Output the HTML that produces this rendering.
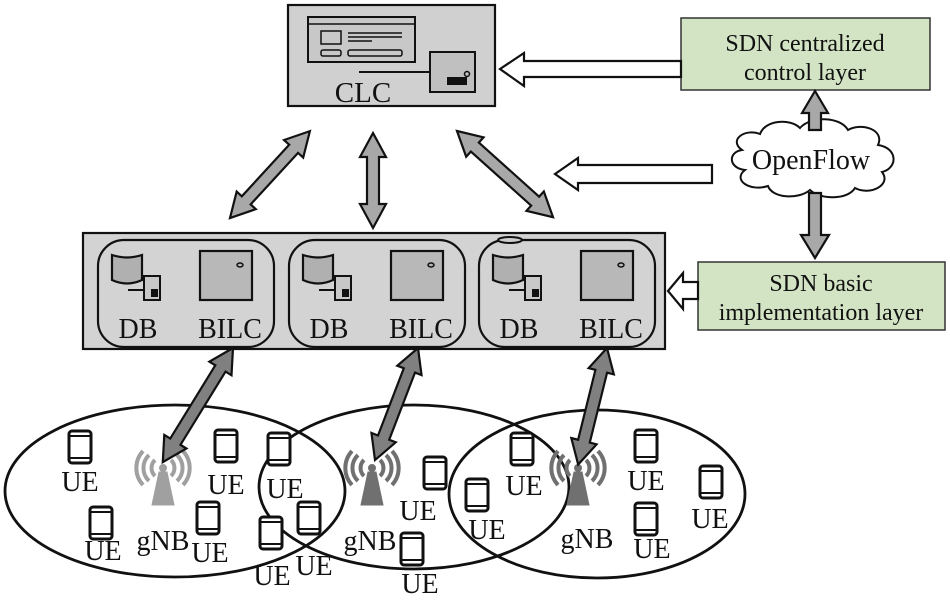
<!DOCTYPE html>
<html><head><meta charset="utf-8"><style>html,body{margin:0;padding:0;background:#fff}svg{display:block}text{font-family:"Liberation Serif",serif;fill:#111}</style></head><body>
<svg width="950" height="602" viewBox="0 0 950 602" xmlns="http://www.w3.org/2000/svg">
<defs>
<g id="phone"><rect x="-11" y="-16" width="22" height="32" rx="3" fill="#fff" stroke="#111" stroke-width="3"/><line x1="-11" y1="-11" x2="11" y2="-11" stroke="#111" stroke-width="2"/><line x1="-11" y1="11" x2="11" y2="11" stroke="#111" stroke-width="2"/></g>
<g id="tower"><polygon points="-4,-6 4,-6 11,27 -11,27"/><circle cx="0" cy="-10" r="3.5"/><g fill="none" stroke-width="4"><path d="M-8,-18 A11,11 0 0 0 -8,-2"/><path d="M8,-18 A11,11 0 0 1 8,-2"/><path d="M-14,-23 A18,18 0 0 0 -14,3"/><path d="M14,-23 A18,18 0 0 1 14,3"/><path d="M-20,-27 A25,25 0 0 0 -20,7"/><path d="M20,-27 A25,25 0 0 1 20,7"/></g></g>
<g id="unit">
<rect x="0" y="0" width="176" height="107" rx="26" fill="none" stroke="#111" stroke-width="2.2"/>
<path d="M14,15 L14,40 Q29,47 44,40 L44,15 Q29,20 14,15 Z" fill="#b0b0b0" stroke="#111" stroke-width="2.2"/>
<line x1="30" y1="50" x2="46" y2="50" stroke="#111" stroke-width="2"/>
<rect x="46" y="36" width="16" height="24" fill="#c8c8c8" stroke="#111" stroke-width="2"/>
<rect x="53" y="49" width="7" height="8" fill="#111"/>
<rect x="102" y="11" width="52" height="49" fill="#b8b8b8" stroke="#111" stroke-width="2.2"/>
<ellipse cx="142" cy="25" rx="3" ry="2" fill="none" stroke="#111" stroke-width="1.5"/>
<text x="40" y="98" font-size="28" text-anchor="middle">DB</text>
<text x="132" y="98" font-size="28" text-anchor="middle">BILC</text>
</g>
</defs>

<rect x="288" y="5" width="207" height="101" fill="#d0d0d0" stroke="#111" stroke-width="2.2"/>
<rect x="308" y="17" width="107" height="45" fill="#c8c8c8" stroke="#111" stroke-width="2"/>
<line x1="308" y1="24" x2="415" y2="24" stroke="#111" stroke-width="1.5"/>
<rect x="321" y="31" width="20" height="13" fill="none" stroke="#111" stroke-width="1.5"/>
<line x1="348" y1="33" x2="402" y2="33" stroke="#111" stroke-width="1.5"/><line x1="348" y1="37" x2="402" y2="37" stroke="#111" stroke-width="1.5"/><line x1="348" y1="41" x2="372" y2="41" stroke="#111" stroke-width="1.5"/>
<rect x="321" y="50" width="20" height="6" rx="2" fill="none" stroke="#111" stroke-width="1.5"/><rect x="348" y="50" width="54" height="6" rx="2" fill="none" stroke="#111" stroke-width="1.5"/>
<line x1="359" y1="72" x2="430" y2="72" stroke="#111" stroke-width="2"/>
<rect x="430" y="52" width="45" height="40" fill="#c0c0c0" stroke="#111" stroke-width="2"/>
<rect x="447" y="77" width="20" height="8" fill="#111"/><circle cx="467" cy="74" r="2.5" fill="none" stroke="#111" stroke-width="1.5"/>
<text x="363" y="102" font-size="29" text-anchor="middle">CLC</text>

<rect x="681" y="18" width="249" height="72" fill="#d3e4c4" stroke="#333" stroke-width="1.5"/>
<text x="805" y="51" font-size="24" text-anchor="middle">SDN centralized</text>
<text x="805" y="80" font-size="24" text-anchor="middle">control layer</text>
<rect x="698" y="262" width="247" height="68" fill="#d3e4c4" stroke="#333" stroke-width="1.5"/>
<text x="821" y="291" font-size="24" text-anchor="middle">SDN basic</text>
<text x="821" y="320" font-size="24" text-anchor="middle">implementation layer</text>

<polygon points="500,69 524,53 524,61 681,61 681,77 524,77 524,86" fill="#fff" stroke="#111" stroke-width="2.2"/>
<polygon points="555,174 578,158 578,165 712,165 712,183 578,183 578,190" fill="#fff" stroke="#111" stroke-width="2.2"/>
<polygon points="668,291 683,273 683,282 698,282 698,299 683,299 683,309" fill="#fff" stroke="#111" stroke-width="2.2"/>

<path d="M742,150 C728,140 745,128 760,134 C765,120 790,118 800,128 C810,116 840,116 848,130 C862,122 885,130 878,145 C898,148 898,168 882,172 C892,185 870,196 855,188 C848,200 820,200 810,190 C798,200 772,198 768,186 C750,192 732,180 745,170 C728,168 728,152 742,150 Z" fill="#fff" stroke="#111" stroke-width="2"/>
<text x="811" y="169" font-size="28" text-anchor="middle">OpenFlow</text>

<g fill="#a8a8a8" stroke="#111" stroke-width="2.2">
<polygon transform="translate(230,218) rotate(-47.4)" points="0,0 24,-13 24,-6 94,-6 94,-13 118,0 94,13 94,6 24,6 24,13"/>
<polygon transform="translate(373,133) rotate(90)" points="0,0 24,-13 24,-6 71,-6 71,-13 95,0 71,13 71,6 24,6 24,13"/>
<polygon transform="translate(457,131) rotate(41.9)" points="0,0 24,-13 24,-6 105,-6 105,-13 129,0 105,13 105,6 24,6 24,13"/>
<polygon points="815,91 828,113 821,113 821,130 809,130 809,113 802,113"/>
<polygon points="809,193 821,193 821,235 829,235 815,258 801,235 809,235"/>
</g>

<rect x="83" y="233" width="582" height="116" fill="#d3d3d3" stroke="#111" stroke-width="2.2"/>
<use href="#unit" x="98" y="240"/>
<use href="#unit" x="289" y="240"/>
<use href="#unit" x="479" y="240"/>
<ellipse cx="510" cy="240" rx="12" ry="3" fill="#ccc" stroke="#111" stroke-width="2"/>

<g fill="none" stroke="#111" stroke-width="2.8">
<ellipse cx="175" cy="491" rx="170" ry="86"/>
<ellipse cx="414" cy="487" rx="155" ry="82"/>
<ellipse cx="597" cy="494" rx="148" ry="84"/>
</g>

<g fill="#a0a0a0" stroke="#a0a0a0"><use href="#tower" x="163" y="478"/></g>
<g fill="#707070" stroke="#707070"><use href="#tower" x="372" y="478"/><use href="#tower" x="578" y="478"/></g>

<g fill="#808080" stroke="#111" stroke-width="2.2">
<polygon transform="translate(233,348) rotate(121.6)" points="0,0 24,-13 24,-6 110,-6 110,-13 134,0 110,13 110,6 24,6 24,13"/>
<polygon transform="translate(418,348) rotate(111)" points="0,0 24,-13 24,-6 96,-6 96,-13 120,0 96,13 96,6 24,6 24,13"/>
<polygon transform="translate(607,348) rotate(103.9)" points="0,0 24,-13 24,-6 96,-6 96,-13 120,0 96,13 96,6 24,6 24,13"/>
</g>

<use href="#phone" x="80" y="447"/><use href="#phone" x="226" y="446"/><use href="#phone" x="279" y="449"/>
<use href="#phone" x="101" y="523"/><use href="#phone" x="208" y="518"/><use href="#phone" x="271" y="533"/>
<use href="#phone" x="309" y="518"/><use href="#phone" x="435" y="473"/><use href="#phone" x="412" y="549"/>
<use href="#phone" x="522" y="449"/><use href="#phone" x="477" y="495"/><use href="#phone" x="646" y="446"/>
<use href="#phone" x="646" y="519"/><use href="#phone" x="711" y="482"/>

<g font-size="28" text-anchor="middle">
<text x="80" y="491">UE</text><text x="226" y="494">UE</text><text x="285" y="498">UE</text>
<text x="103" y="560">UE</text><text x="210" y="562">UE</text><text x="272" y="585">UE</text>
<text x="314" y="575">UE</text><text x="418" y="520">UE</text><text x="420" y="593">UE</text>
<text x="524" y="495">UE</text><text x="487" y="539">UE</text><text x="646" y="490">UE</text>
<text x="652" y="558">UE</text><text x="710" y="528">UE</text>
<text x="163" y="550">gNB</text><text x="370" y="550">gNB</text><text x="587" y="548">gNB</text>
</g>
</svg>
</body></html>
